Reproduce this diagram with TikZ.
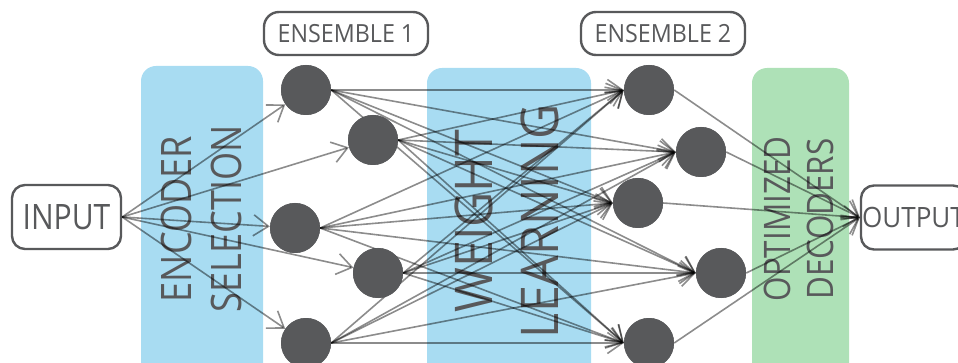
\documentclass[tikz,border=0pt]{standalone}
\usepackage{fontspec}
\setmainfont{Open Sans}
\newfontfamily\narrowfont{Open Sans}[FakeStretch=0.86]
\newfontfamily\midfont{Open Sans}[FakeStretch=0.93]
\usetikzlibrary{arrows.meta}

\definecolor{ink}{RGB}{88,89,91}
\definecolor{bandblue}{RGB}{168,220,242}
\definecolor{bandgreen}{RGB}{174,225,183}

\tikzset{
  neuron/.style={circle, fill=ink, minimum size=50pt, inner sep=0pt},
  tag/.style={draw=ink, line width=2.4pt, rounded corners=13pt, fill=white,
              text=ink, inner sep=0pt, anchor=center},
  link/.style={draw=black, draw opacity=0.45, line width=1.6pt,
               -{Straight Barb[length=15pt,width=21pt]}},
  bandlabel/.style={rotate=90, text=ink, align=center, inner sep=0pt},
  band/.style={rounded corners=15pt},
}

\begin{document}
\begin{tikzpicture}[x=1pt,y=-1pt]
  \useasboundingbox (0,0) rectangle (958,363);
  \clip (0,0) rectangle (958,363);

  % processing stages
  \fill[band, bandblue]  (141,66) rectangle (263,420);
  \fill[band, bandblue]  (427,68) rectangle (591,420);
  \fill[band, bandgreen] (752,68) rectangle (849,420);

  \node[bandlabel, font=\narrowfont\fontsize{42}{50}\selectfont] (encsel) at (201,219)
    {ENCODER\\SELECTION};
  \node[bandlabel, font=\midfont\fontsize{52}{66}\selectfont] (wlearn) at (507,221)
    {WEIGHT\\LEARNING};
  \node[bandlabel, font=\narrowfont\fontsize{36.5}{43}\selectfont] (optdec) at (799,219)
    {OPTIMIZED\\DECODERS};

  % input / output and ensemble tags
  \node[tag, minimum width=109pt, minimum height=64pt,
        font=\narrowfont\fontsize{35}{40}\selectfont] (in) at (66.5,217) {INPUT};
  \node[tag, minimum width=105pt, minimum height=64pt,
        font=\midfont\fontsize{28}{32}\selectfont] (out) at (913.5,217.5) {OUTPUT};
  \node[tag, rounded corners=15pt, minimum width=164pt, minimum height=43pt,
        font=\midfont\fontsize{25}{30}\selectfont] (ens1) at (346,33.5) {ENSEMBLE 1};
  \node[tag, rounded corners=15pt, minimum width=164pt, minimum height=43pt,
        font=\midfont\fontsize{25}{30}\selectfont] (ens2) at (663,33.5) {ENSEMBLE 2};

  % ensemble members (placed first so the links can refer to them)
  \path
    (306,90)  coordinate (pa1)
    (373,140) coordinate (pa2)
    (295,228) coordinate (pa3)
    (378,273) coordinate (pa4)
    (306,343) coordinate (pa5)
    (649,90)  coordinate (pb1)
    (701,152) coordinate (pb2)
    (638,203) coordinate (pb3)
    (721,273) coordinate (pb4)
    (649,343) coordinate (pb5);
  \foreach \i in {1,...,5} {
    \path (pa\i) node[neuron] (a\i) {};
    \path (pb\i) node[neuron] (b\i) {};
  }

  % connections
  \foreach \i in {1,...,5} {
    \draw[link] (in.east) -- (a\i);
  }
  \foreach \i in {1,...,5} {
    \foreach \j in {1,...,5} {
      \draw[link] (a\i.east) -- (b\j.west);
    }
  }
  \foreach \j in {1,...,5} {
    \draw[link] (b\j.east) -- (out.west);
  }

  % members drawn on top of the connections
  \foreach \i in {1,...,5} {
    \node[neuron] at (pa\i) {};
    \node[neuron] at (pb\i) {};
  }
\end{tikzpicture}
\end{document}
